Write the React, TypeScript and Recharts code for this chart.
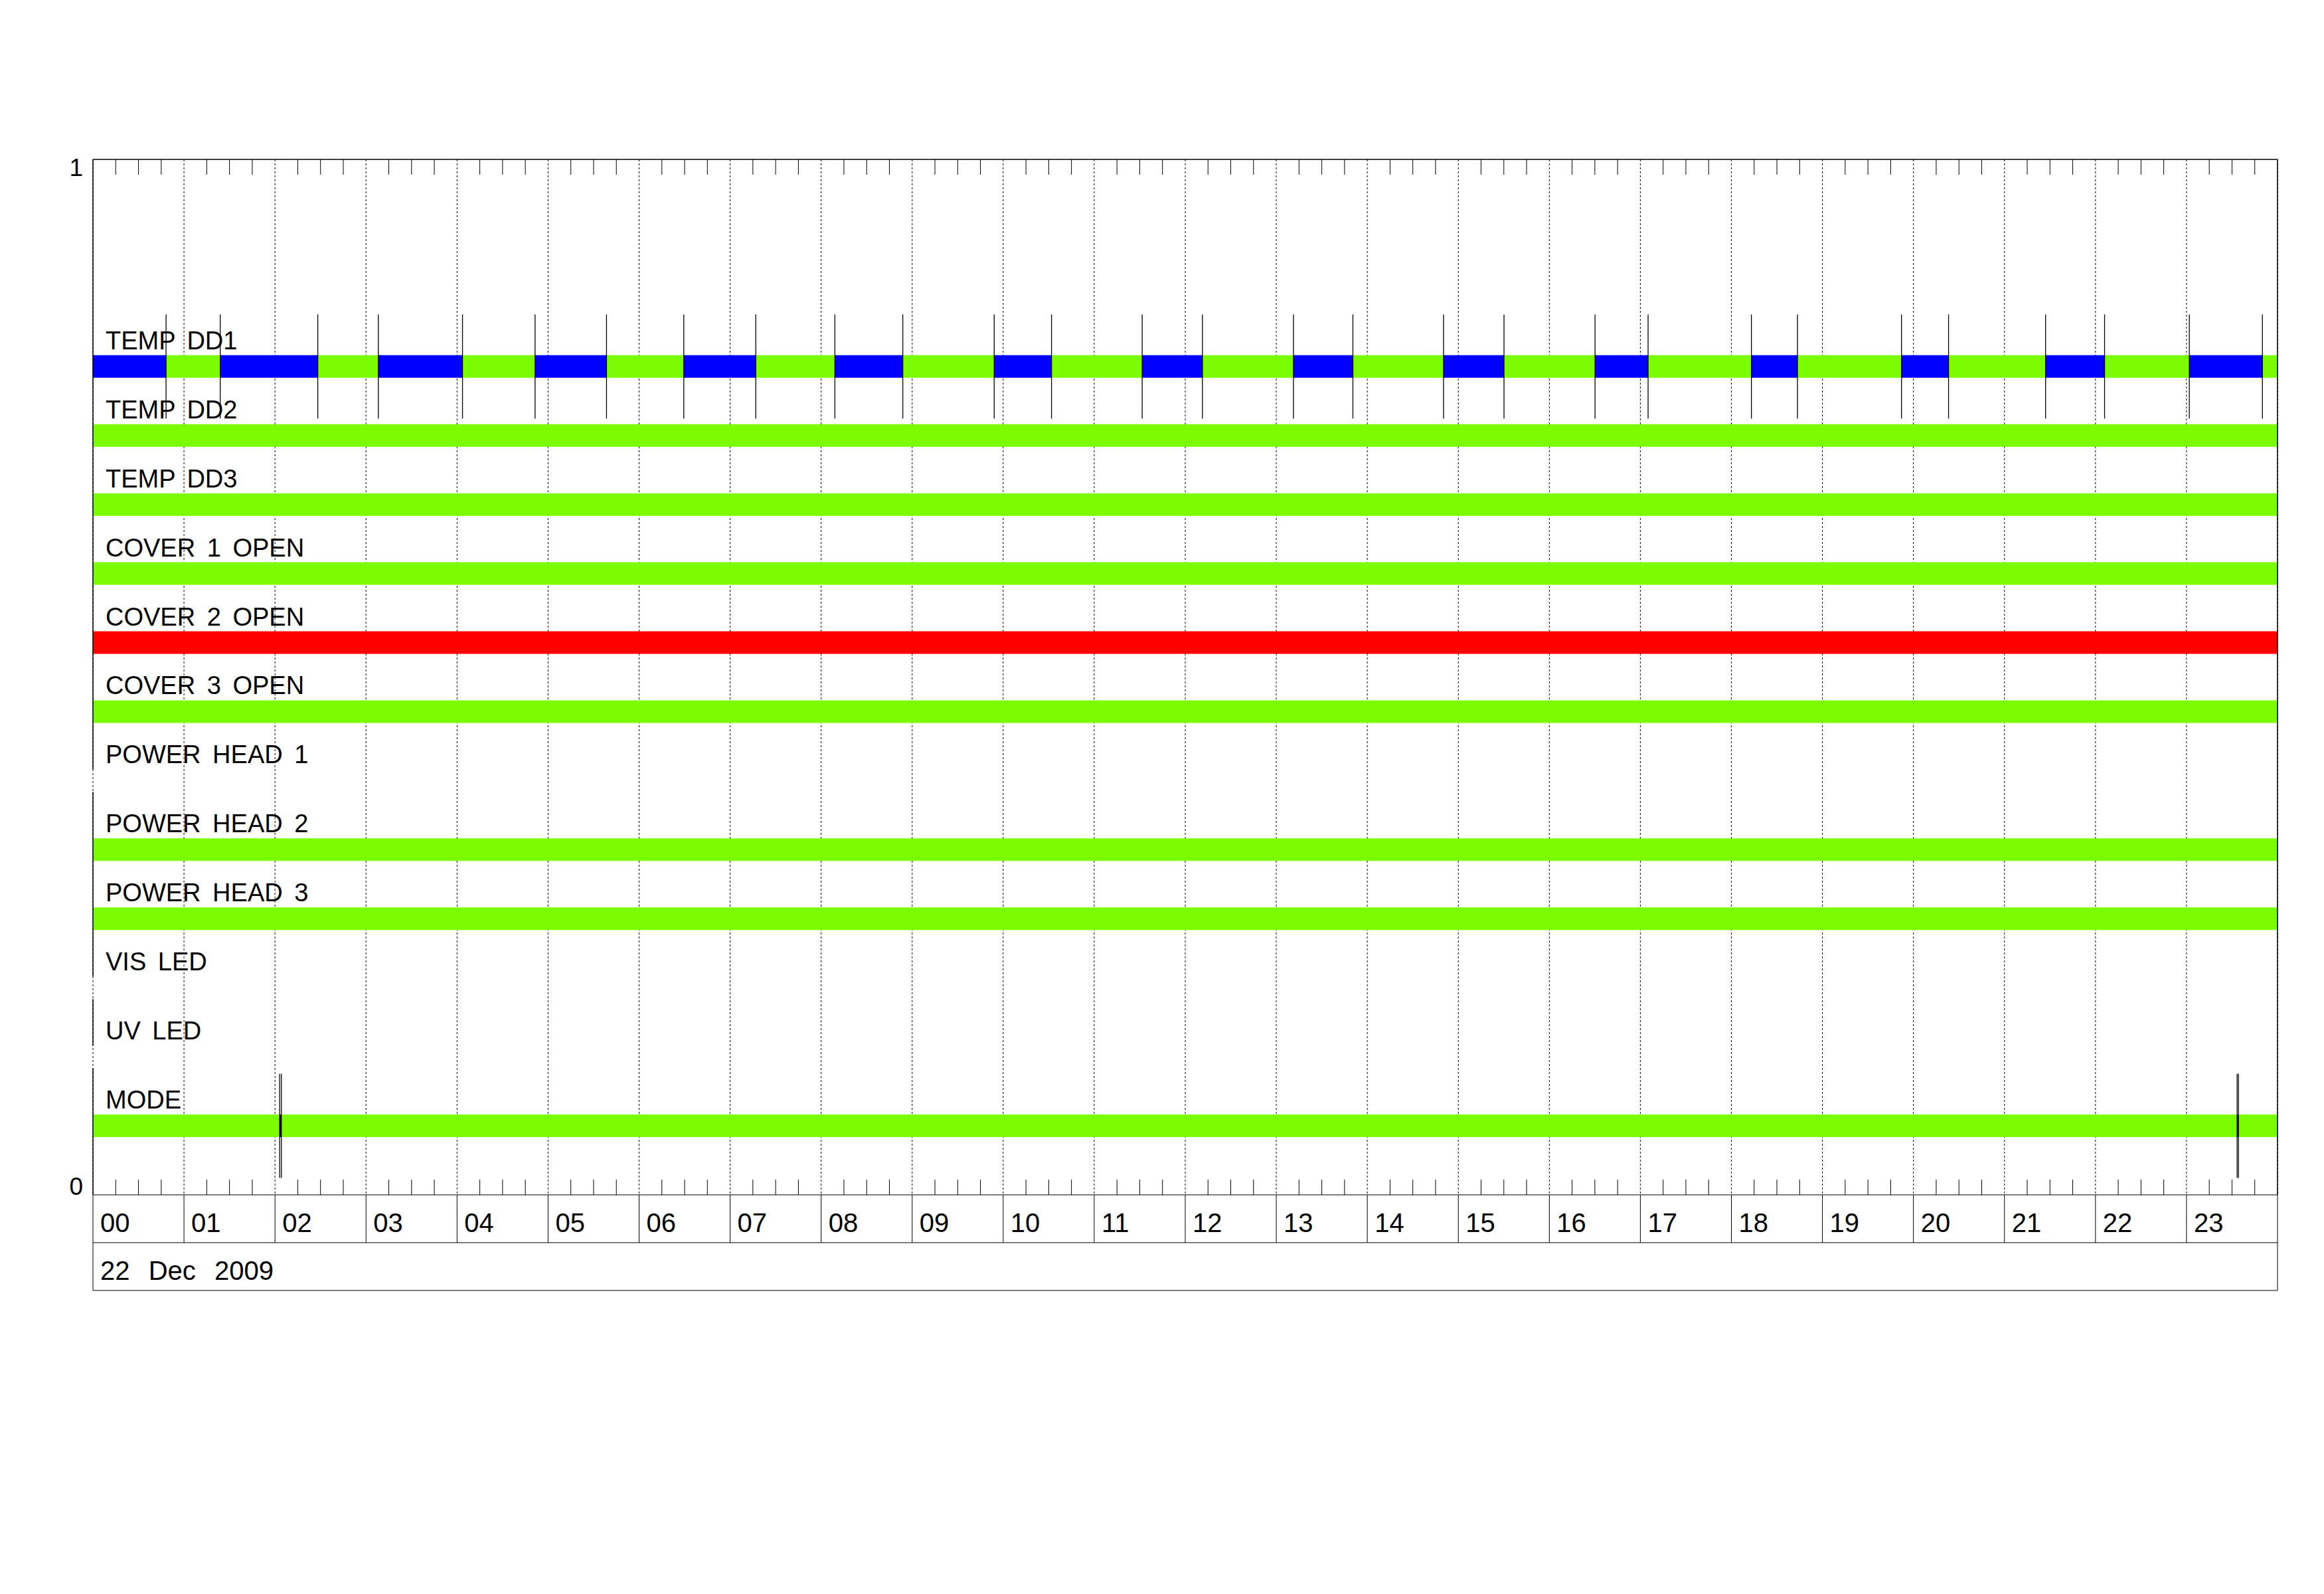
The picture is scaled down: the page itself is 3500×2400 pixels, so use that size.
import { ComposedChart, XAxis, YAxis, CartesianGrid, ReferenceArea, ReferenceLine, Scatter } from 'recharts'

const FONT = '"Liberation Sans", Arial, sans-serif'

// hour ticks and labels
const HOURS = [0, 1, 2, 3, 4, 5, 6, 7, 8, 9, 10, 11, 12, 13, 14, 15, 16, 17, 18, 19, 20, 21, 22, 23, 24]
const HOUR_LABELS = ['00', '01', '02', '03', '04', '05', '06', '07', '08', '09', '10', '11',
  '12', '13', '14', '15', '16', '17', '18', '19', '20', '21', '22', '23']
const QUARTER_TICKS = HOURS.slice(0, 24).flatMap((h) => [h + 0.25, h + 0.5, h + 0.75])
const DATE_LABEL = '22  Dec  2009'

const ROW_NAMES = ['TEMP DD1', 'TEMP DD2', 'TEMP DD3', 'COVER 1 OPEN', 'COVER 2 OPEN', 'COVER 3 OPEN',
  'POWER HEAD 1', 'POWER HEAD 2', 'POWER HEAD 3', 'VIS LED', 'UV LED', 'MODE']
const SLOTS = 15 // the 0..1 axis is cut into 15 row slots, rows sit on slots 12..1

const STATE_COLORS: Record<string, string> = { ok: '#7CFC00', cold: '#0000FF', alarm: '#FF0000', change: '#000000' }

type Seg = { from: number; to: number; state: string }

// TEMP DD1 switches between cold (blue) and ok (green) all day
const TEMP_DD1_EDGES = [0, 0.803, 1.398, 2.47, 3.135, 4.06, 4.857, 5.642, 6.491, 7.282, 8.151, 8.897, 9.901,
  10.531, 11.527, 12.189, 13.189, 13.842, 14.838, 15.502, 16.502, 17.085, 18.22, 18.726, 19.869, 20.386,
  21.452, 22.1, 23.031, 23.834, 24]
const TEMP_DD1_STATES = ['cold', 'ok', 'cold', 'ok', 'cold', 'ok', 'cold', 'ok', 'cold', 'ok', 'cold', 'ok',
  'cold', 'ok', 'cold', 'ok', 'cold', 'ok', 'cold', 'ok', 'cold', 'ok', 'cold', 'ok', 'cold', 'ok', 'cold', 'ok',
  'cold', 'ok']
const TEMP_DD1: Seg[] = TEMP_DD1_STATES.map((state, i) => ({ from: TEMP_DD1_EDGES[i], to: TEMP_DD1_EDGES[i + 1], state }))

const TEMP_DD2: Seg[] = [{ from: 0, to: 24, state: 'ok' }]
const TEMP_DD3: Seg[] = [{ from: 0, to: 24, state: 'ok' }]
const COVER_1: Seg[] = [{ from: 0, to: 24, state: 'ok' }]
const COVER_2: Seg[] = [{ from: 0, to: 24, state: 'alarm' }]
const COVER_3: Seg[] = [{ from: 0, to: 24, state: 'ok' }]
const POWER_HEAD_1: Seg[] = []
const POWER_HEAD_2: Seg[] = [{ from: 0, to: 24, state: 'ok' }]
const POWER_HEAD_3: Seg[] = [{ from: 0, to: 24, state: 'ok' }]
const VIS_LED: Seg[] = []
const UV_LED: Seg[] = []
const MODE: Seg[] = [
  { from: 0, to: 2.051, state: 'ok' },
  { from: 2.051, to: 2.07, state: 'change' },
  { from: 2.07, to: 23.556, state: 'ok' },
  { from: 23.556, to: 23.571, state: 'change' },
  { from: 23.571, to: 24, state: 'ok' },
]

const ROW_DATA = [TEMP_DD1, TEMP_DD2, TEMP_DD3, COVER_1, COVER_2, COVER_3,
  POWER_HEAD_1, POWER_HEAD_2, POWER_HEAD_3, VIS_LED, UV_LED, MODE]

const BAR_HALF = 0.0109
const MARKER_HALF = 0.0503

const NoTick = () => <g />

const HourTick = (props: any) => {
  const { x, y, payload } = props
  const label = HOUR_LABELS[payload.value]
  if (!label) return <g />
  return <text x={x + 11} y={y - 16} fontSize={40} fontFamily={FONT} fill="#000">{label}</text>
}

const DateTick = (props: any) => {
  const { x, y, payload } = props
  if (payload.value !== 0) return <g />
  return (
    <text x={x + 11} y={y - 16} fontSize={40} fontFamily={FONT} fill="#000" style={{ whiteSpace: 'pre', wordSpacing: 3 }}>
      {DATE_LABEL}
    </text>
  )
}

const YTick = (props: any) => {
  const { x, y, payload } = props
  return (
    <text x={x} y={payload.value === 1 ? y + 25 : y} textAnchor="end" fontSize={37} fontFamily={FONT} fill="#000">
      {payload.value}
    </text>
  )
}

const RowLabel = (props: any) => {
  const { cx, cy, payload } = props
  return (
    <text x={cx + 19} y={cy - 26} fontSize={38} fontFamily={FONT} fill="#000" style={{ wordSpacing: 7 }}>
      {payload.name}
    </text>
  )
}

export default function App() {
  const rows = ROW_NAMES.map((name, i) => ({ name, hour: 0, level: (ROW_NAMES.length - i) / SLOTS, segs: ROW_DATA[i] }))

  // left edge is broken where a row has no data
  const gaps = rows.filter((r) => r.segs.length === 0).map((r) => r.level).sort((a, b) => a - b)
  const leftEdge: [number, number][] = []
  let start = 0
  gaps.forEach((g) => {
    leftEdge.push([start, g - BAR_HALF])
    start = g + BAR_HALF
  })
  leftEdge.push([start, 1])

  return (
    <div style={{ position: 'absolute', left: 0, top: 0, width: 3500, height: 2400, background: '#fff' }}>
      <ComposedChart width={3500} height={2400} data={rows} margin={{ top: 240, right: 70, bottom: 455, left: 0 }}>
        <CartesianGrid horizontal={false} stroke="#000" strokeDasharray="3 3" />
        <XAxis dataKey="hour" type="number" domain={[0, 24]} allowDataOverflow ticks={HOURS} interval={0} height={72}
          tickSize={72} tickMargin={0} stroke="#000" tickLine={{ stroke: '#000' }} tick={HourTick} />
        <XAxis xAxisId="row1date" dataKey="hour" type="number" domain={[0, 24]} allowDataOverflow ticks={[0, 24]}
          interval={0} height={72} tickSize={72} tickMargin={0} stroke="#000" tickLine={{ stroke: '#000' }}
          tick={DateTick} />
        <XAxis xAxisId="row2border" dataKey="hour" type="number" domain={[0, 24]} allowDataOverflow ticks={[0, 24]}
          interval={0} height={2} tickSize={0} stroke="#000" tick={NoTick} tickLine={false} />
        <XAxis xAxisId="qtop" dataKey="hour" orientation="top" mirror type="number" domain={[0, 24]} allowDataOverflow
          ticks={QUARTER_TICKS} interval={0} height={2} tickSize={23} axisLine={false} tick={NoTick}
          tickLine={{ stroke: '#000' }} />
        <XAxis xAxisId="qbottom" dataKey="hour" orientation="bottom" mirror type="number" domain={[0, 24]}
          allowDataOverflow ticks={QUARTER_TICKS} interval={0} height={2} tickSize={23} axisLine={false} tick={NoTick}
          tickLine={{ stroke: '#000' }} />
        <YAxis dataKey="level" type="number" domain={[0, 1]} allowDataOverflow ticks={[0, 1]} interval={0} width={140}
          axisLine={false} tickLine={false} tickSize={0} tickMargin={15} tick={YTick} />

        {rows.flatMap((r, i) =>
          r.segs.map((s, j) => (
            <ReferenceArea key={`bar-${i}-${j}`} x1={s.from} x2={s.to} y1={r.level - BAR_HALF} y2={r.level + BAR_HALF}
              fill={STATE_COLORS[s.state]} fillOpacity={1} stroke="none" ifOverflow="visible" />
          ))
        )}

        {rows.flatMap((r, i) =>
          r.segs.slice(1).map((s, j) => (
            <ReferenceLine key={`mk-${i}-${j}`} segment={[{ x: s.from, y: r.level - MARKER_HALF }, { x: s.from, y: r.level + MARKER_HALF }]}
              stroke="#000" strokeWidth={1.3} ifOverflow="visible" />
          ))
        )}

        {leftEdge.map(([a, b], i) => (
          <ReferenceLine key={`le-${i}`} segment={[{ x: 0, y: a }, { x: 0, y: b }]} stroke="#000" strokeWidth={1.5} ifOverflow="visible" />
        ))}
        <ReferenceLine x={24} stroke="#000" strokeWidth={1.5} ifOverflow="visible" />
        <ReferenceLine y={1} stroke="#000" strokeWidth={1.5} ifOverflow="visible" />

        <Scatter dataKey="level" shape={RowLabel} isAnimationActive={false} />
      </ComposedChart>
    </div>
  )
}
